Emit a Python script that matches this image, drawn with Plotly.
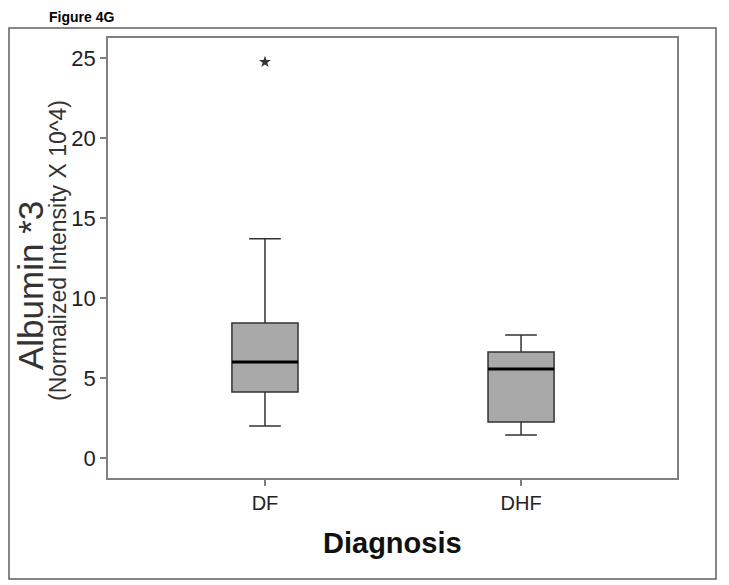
import plotly.graph_objects as go

categories = ["DF", "DHF"]
positions = [0, 1]
q1 = [4.12, 2.25]
median = [6.0, 5.56]
q3 = [8.44, 6.62]
lower_whisker = [2.0, 1.44]
upper_whisker = [13.7, 7.69]
outlier_cat = [0]
outlier_val = [24.75]

y_ticks = [0, 5, 10, 15, 20, 25]

box_half = 0.129

fig = go.Figure()
fig.add_trace(go.Box(
    x=positions, q1=q1, median=median, q3=q3,
    lowerfence=lower_whisker, upperfence=upper_whisker,
    fillcolor="#a9a9a9", line=dict(color="#333333", width=1.5),
    width=2 * box_half, whiskerwidth=0.48, boxpoints=False,
    showlegend=False, hoverinfo="skip",
))
for p, m in zip(positions, median):
    fig.add_trace(go.Scatter(
        x=[p - box_half, p + box_half], y=[m, m], mode="lines",
        line=dict(color="black", width=3), showlegend=False, hoverinfo="skip",
    ))
fig.add_trace(go.Scatter(
    x=outlier_cat, y=outlier_val, mode="markers",
    marker=dict(symbol="star", size=9, color="#333333"),
    showlegend=False, hoverinfo="skip",
))

fam = "Liberation Sans, Arial, sans-serif"

fig.update_layout(
    width=721, height=577,
    margin=dict(l=100, r=52, t=30, b=107),
    paper_bgcolor="white", plot_bgcolor="white",
    xaxis=dict(
        range=[-0.613, 1.609], tickvals=positions, ticktext=categories,
        showline=True, mirror=True, linecolor="#808080", linewidth=1.5,
        ticks="outside", ticklen=6, tickcolor="#808080", tickwidth=1.5,
        showgrid=False, zeroline=False,
        tickfont=dict(family=fam, size=20, color="#222222"),
    ),
    yaxis=dict(
        range=[-1.25, 26.25], tickvals=y_ticks,
        showline=True, mirror=True, linecolor="#808080", linewidth=1.5,
        ticks="outside", ticklen=6, tickcolor="#808080", tickwidth=1.5,
        showgrid=False, zeroline=False,
        tickfont=dict(family=fam, size=22, color="#222222"),
    ),
    font=dict(family=fam),
)

fig.add_shape(type="rect", xref="paper", yref="paper",
              x0=-0.174, x1=1.0685, y0=-0.2295, y1=1.0227,
              line=dict(color="#606060", width=1.5))

fig.add_annotation(text="<b>Figure 4G</b>", xref="paper", yref="paper",
                   x=(48 - 108) / 569, y=(478 - 8) / 440, xanchor="left", yanchor="top",
                   showarrow=False, font=dict(size=14, color="black"), borderpad=0)
fig.add_annotation(text="<b>Diagnosis</b>", xref="paper", yref="paper",
                   x=0.5, y=(478 - 543) / 440, xanchor="center", yanchor="middle",
                   showarrow=False, font=dict(size=29, color="#111111"))
fig.add_annotation(text="Albumin *3", xref="paper", yref="paper",
                   x=(30 - 108) / 569, y=(478 - 286) / 440, xanchor="center", yanchor="middle",
                   textangle=-90, showarrow=False, font=dict(size=35, color="#333333"))
fig.add_annotation(text="(Normalized Intensity X 10^4)", xref="paper", yref="paper",
                   x=(58 - 108) / 569, y=(478 - 251) / 440, xanchor="center", yanchor="middle",
                   textangle=-90, showarrow=False, font=dict(size=23, color="#333333"))

fig.write_html("out.html")
